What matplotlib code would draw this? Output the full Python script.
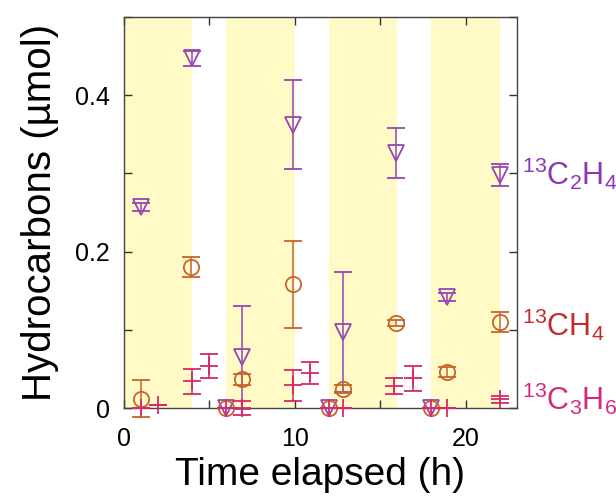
import matplotlib
matplotlib.use('Agg')
import matplotlib.pyplot as plt
import matplotlib.transforms as mtransforms
from matplotlib.ticker import MultipleLocator

plt.rcParams.update({
    'font.family': 'Liberation Sans',
    'mathtext.fontset': 'custom',
    'mathtext.rm': 'Liberation Sans',
    'mathtext.it': 'Liberation Sans:italic',
})

# ── Data ───────────────────────────────────────────────────────────────────

light_periods = [(0, 4), (6, 10), (12, 16), (18, 22)]

t_c2h4   = [1, 4, 6, 6.9, 9.9, 12, 12.8, 15.9, 18, 18.9, 22]
c2h4     = [0.257, 0.447, 0, 0.065, 0.362, 0, 0.097, 0.326, 0, 0.142, 0.298]
c2h4_err = [0.005, 0.010, 0, 0.066, 0.057, 0, 0.077, 0.032, 0, 0.005, 0.014]

t_ch4    = [1, 3.9, 6, 6.9, 9.9, 12, 12.8, 15.9, 18, 18.9, 22]
ch4      = [0.012, 0.180, 0, 0.037, 0.158, 0, 0.024, 0.109, 0, 0.046, 0.110]
ch4_err  = [0.024, 0.013, 0, 0.007, 0.056, 0, 0.005, 0.004, 0, 0.006, 0.013]

t_c3h6   = [1, 2, 4, 5, 6, 6.9, 9.9, 10.9, 12, 12.8, 15.8, 16.9, 18, 18.9, 22]
c3h6     = [0, 0.004, 0.034, 0.054, 0, 0, 0.029, 0.045, 0, 0, 0.028, 0.038, 0, 0, 0.011]
c3h6_err = [0, 0, 0.016, 0.015, 0, 0.009, 0.020, 0.014, 0, 0, 0.010, 0.016, 0, 0, 0.004]

# ── Colours ────────────────────────────────────────────────────────────────

BAND   = '#fffac6'
PURPLE = '#9446b4'
ORANGE = '#c8642a'
PINK   = '#d8286e'
LBL_PURPLE = '#8a36b4'
LBL_RED    = '#c42a2a'
LBL_PINK   = '#d4287e'

fig = plt.figure(figsize=(6.16, 4.97), dpi=100)
ax = fig.add_axes([0.2013, 0.179, 0.6377, 0.787])

for start, end in light_periods:
    ax.axvspan(start, end, color=BAND, lw=0, zorder=0)

common = dict(linestyle='none', capsize=6.5, elinewidth=1.1, capthick=1.1,
              markeredgewidth=1.3, clip_on=False, zorder=3)

ax.errorbar(t_c2h4, c2h4, yerr=c2h4_err, fmt='v', color=PURPLE,
            markerfacecolor='none', markersize=12, **common)
ax.errorbar(t_ch4, ch4, yerr=ch4_err, fmt='o', color=ORANGE,
            markerfacecolor='none', markersize=11, **common)
ax.errorbar(t_c3h6, c3h6, yerr=c3h6_err, fmt='+', color=PINK,
            markersize=13, **common)

ax.set_xlim(0, 23)
ax.set_ylim(0, 0.5)
ax.xaxis.set_major_locator(MultipleLocator(10))
ax.xaxis.set_minor_locator(MultipleLocator(5))
ax.yaxis.set_major_locator(MultipleLocator(0.2))
ax.yaxis.set_minor_locator(MultipleLocator(0.1))
ax.yaxis.set_major_formatter(plt.FuncFormatter(lambda v, p: '0' if v == 0 else f'{v:.1f}'))

for which in ('major', 'minor'):
    ax.tick_params(axis='both', which=which, direction='in', length=6, width=1,
                   top=True, right=True, color='#333333')
ax.tick_params(axis='both', which='major', labelsize=18)
ax.tick_params(axis='x', which='major', pad=14)
ax.tick_params(axis='y', which='major', pad=10)
for s in ax.spines.values():
    s.set_color('#444444')
    s.set_linewidth(1.0)

ax.set_xlabel('Time elapsed (h)', fontsize=28, labelpad=4)
ax.set_ylabel('Hydrocarbons (µmol)', fontsize=29, labelpad=12)

trans = mtransforms.blended_transform_factory(ax.transAxes, ax.transData)
ax.text(1.012, 0.300, r'$^{13}$C$_2$H$_4$', transform=trans, color=LBL_PURPLE,
        fontsize=22, va='center', ha='left', clip_on=False)
ax.text(1.012, 0.106, r'$^{13}$CH$_4$', transform=trans, color=LBL_RED,
        fontsize=22, va='center', ha='left', clip_on=False)
ax.text(1.012, 0.012, r'$^{13}$C$_3$H$_6$', transform=trans, color=LBL_PINK,
        fontsize=22, va='center', ha='left', clip_on=False)

fig.savefig('out.png', dpi=100)
